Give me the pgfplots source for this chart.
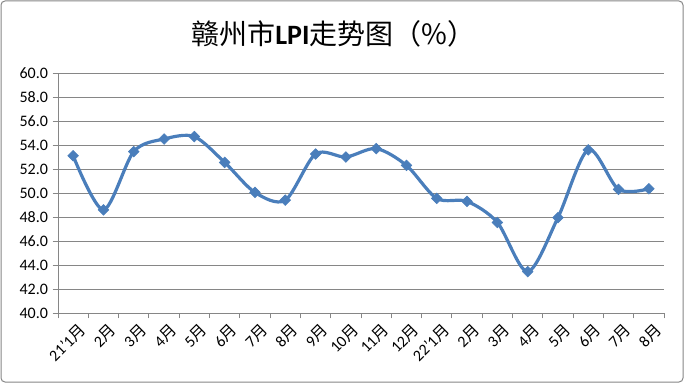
\documentclass[border=0pt]{standalone}
\usepackage{pgfplots}
\pgfplotsset{compat=1.18}
\usepackage{fontspec}
\setmainfont{Carlito}
\newfontfamily\cjk{Noto Sans CJK SC}
\definecolor{linec}{RGB}{74,126,187}
\definecolor{gridc}{RGB}{134,134,134}
\newcommand{\yue}{{\cjk 月}}
\begin{document}
\begin{tikzpicture}
\useasboundingbox (0pt,0pt) rectangle (513pt,287.25pt);
\draw[gridc, line width=0.75pt, rounded corners=3pt] (0.75pt,0.75pt) rectangle (512.25pt,286.5pt);
\node at (250pt,262pt) {\fontsize{21}{23}\selectfont{\cjk 赣州市}{\bfseries LPI}{\cjk 走势图（\%）}};
\begin{axis}[
  at={(43.5pt,52.5pt)}, anchor=south west,
  scale only axis, width=454.5pt, height=180pt,
  xmin=-0.5, xmax=19.5, ymin=40, ymax=60,
  ytick={40,42,...,60},
  xtick={0,...,19},
  xticklabels={21’1\yue,2\yue,3\yue,4\yue,5\yue,6\yue,7\yue,8\yue,9\yue,10\yue,11\yue,12\yue,22’1\yue,2\yue,3\yue,4\yue,5\yue,6\yue,7\yue,8\yue},
  minor xtick={-0.5,0.5,...,19.5},
  axis x line*=bottom, axis y line*=left,
  axis line style={gridc, line width=0.75pt},
  tick align=outside,
  major tick length=4pt, minor tick length=4pt,
  x tick style={draw=none},
  minor x tick style={draw=gridc, line width=0.75pt},
  y tick style={gridc, line width=0.75pt},
  ymajorgrids, grid style={gridc, line width=0.75pt},
  yticklabel style={/pgf/number format/fixed, /pgf/number format/fixed zerofill, /pgf/number format/precision=1, font=\fontsize{12}{13}\selectfont},
  /pgf/number format/assume math mode=true,
  xticklabel style={rotate=45, anchor=north east, font=\fontsize{12}{13}\selectfont, xshift=4pt, yshift=-1pt},
  clip=false,
]
\addplot[linec, line width=2.4pt, smooth, tension=0.5, mark=square*, mark size=2.8pt, mark options={rotate=45, fill=linec, line width=0.5pt}]
coordinates {(0,53.1)(1,48.6)(2,53.45)(3,54.5)(4,54.7)(5,52.55)(6,50.05)(7,49.4)(8,53.25)(9,53.0)(10,53.7)(11,52.3)(12,49.55)(13,49.3)(14,47.55)(15,43.45)(16,47.95)(17,53.6)(18,50.3)(19,50.35)};
\end{axis}
\end{tikzpicture}
\end{document}
